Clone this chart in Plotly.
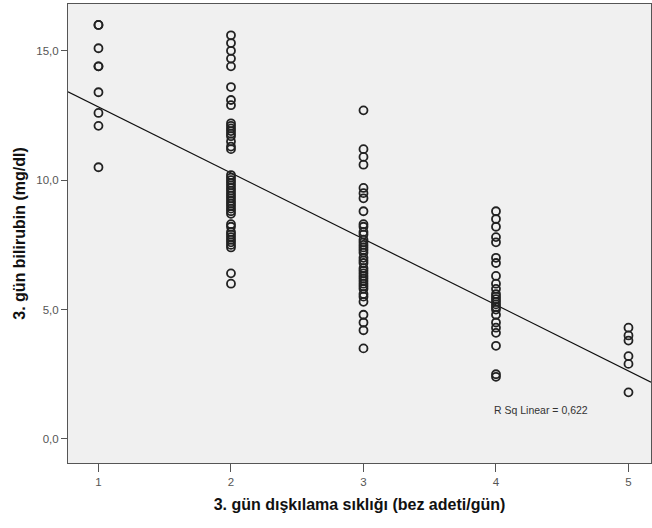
import plotly.graph_objects as go

# Data
col1 = [16.0, 16.0, 15.1, 14.4, 14.4, 13.4, 12.6, 12.1, 10.5]
col2 = [15.6, 15.3, 15.0, 14.7, 14.4, 13.6, 13.1, 12.9, 12.2, 12.1, 12.0, 11.9,
        11.8, 11.7, 11.5, 11.3, 11.2, 10.2, 10.1, 10.0, 9.9, 9.8, 9.7, 9.6, 9.5,
        9.4, 9.3, 9.2, 9.1, 9.0, 8.9, 8.8, 8.7, 8.3, 8.2, 8.0, 7.9, 7.8, 7.7,
        7.6, 7.5, 7.4, 6.4, 6.0]
col3 = [12.7, 11.2, 10.9, 10.6, 9.7, 9.5, 9.3, 8.8, 8.3, 8.2, 8.0, 7.9, 7.7,
        7.6, 7.5, 7.4, 7.3, 7.2, 7.0, 6.9, 6.8, 6.6, 6.5, 6.4, 6.3, 6.2, 6.1,
        6.0, 5.9, 5.8, 5.6, 5.5, 5.3, 4.8, 4.5, 4.2, 3.5]
col4 = [8.8, 8.5, 8.2, 7.8, 7.6, 7.0, 6.8, 6.3, 6.0, 5.8, 5.6, 5.5, 5.4, 5.3,
        5.2, 5.1, 5.0, 4.8, 4.5, 4.3, 4.1, 3.6, 2.5, 2.4]
col5 = [4.3, 4.0, 3.8, 3.2, 2.9, 1.8]
frequencies = [1, 2, 3, 4, 5]

fit_intercept = 15.38
fit_slope = -2.55
r_sq_text = "R Sq Linear = 0,622"

y_tick_vals = [0, 5, 10, 15]
y_tick_text = ["0,0", "5,0", "10,0", "15,0"]
x_tick_vals = [1, 2, 3, 4, 5]
x_tick_text = ["1", "2", "3", "4", "5"]

x_title = "3. gün dışkılama sıklığı (bez adeti/gün)"
y_title = "3. gün bilirubin (mg/dl)"

xs, ys = [], []
for f, col in zip(frequencies, [col1, col2, col3, col4, col5]):
    xs += [f] * len(col)
    ys += col

x_range = [0.77, 5.17]
y_range = [-0.93, 16.81]
line_x = x_range
line_y = [fit_intercept + fit_slope * v for v in line_x]

fig = go.Figure()
fig.add_trace(go.Scatter(
    x=line_x, y=line_y, mode="lines",
    line=dict(color="#111111", width=1.2), hoverinfo="skip"))
fig.add_trace(go.Scatter(
    x=xs, y=ys, mode="markers",
    marker=dict(symbol="circle-open", size=8, color="#222222",
                line=dict(width=1.8, color="#222222"))))

fig.add_annotation(x=3.97, y=1.12, xref="x", yref="y", text=r_sq_text,
                   showarrow=False, xanchor="left", yanchor="middle",
                   font=dict(family="Liberation Sans, Arial", size=10.5, color="#333333"))

axis_font = dict(family="Liberation Sans, Arial", size=11.5, color="#555555")
title_font = dict(family="Liberation Sans, Arial", size=16, color="#111111")

fig.update_layout(
    width=652, height=528,
    margin=dict(l=68, r=1, t=4, b=65),
    paper_bgcolor="white", plot_bgcolor="#F0F0F0",
    showlegend=False,
    font=dict(family="Liberation Sans, Arial"),
)
fig.update_xaxes(
    range=x_range, tickvals=x_tick_vals, ticktext=x_tick_text,
    showgrid=False, zeroline=False, showline=True, linecolor="#555555",
    linewidth=1, mirror=True, ticks="outside", ticklen=8, tickcolor="#555555",
    tickfont=axis_font,
    title=dict(text="<b>" + x_title + "</b>", font=title_font, standoff=12),
)
fig.update_yaxes(
    range=y_range, tickvals=y_tick_vals, ticktext=y_tick_text,
    showgrid=False, zeroline=False, showline=True, linecolor="#555555",
    linewidth=1, mirror=True, ticks="outside", ticklen=6, tickcolor="#555555",
    tickfont=axis_font,
    title=dict(text="<b>" + y_title + "</b>", font=title_font, standoff=6),
)

fig.write_html("out.html")
